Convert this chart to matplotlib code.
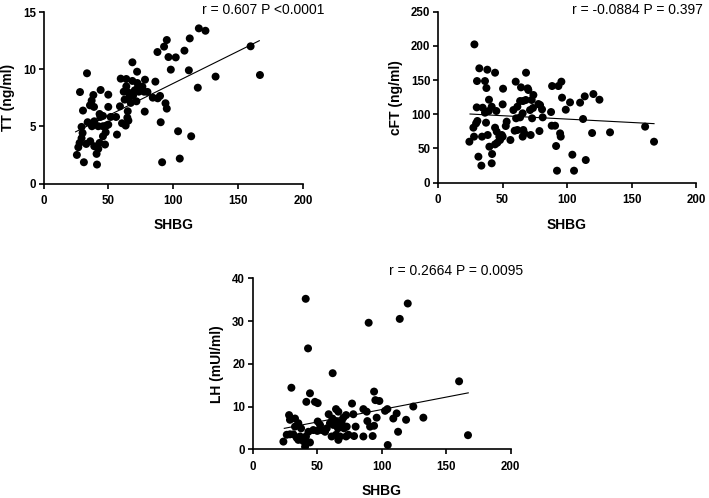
import numpy as np
import matplotlib.pyplot as plt

plt.rcParams['font.family'] = ['Liberation Sans', 'DejaVu Sans']

# TT vs SHBG
shbg_tt = [33.5, 28.1, 37.1, 38.4, 44.0, 49.9, 30.4, 35.8, 38.9, 43.2, 45.8, 49.9,
           29.3, 34.0, 37.3, 39.1, 43.8, 42.2, 45.8, 49.9, 51.7, 25.7, 31.1, 41.2,
           27.8, 29.3, 26.8, 32.9, 36.0, 39.1, 42.2, 40.9, 43.2, 45.8, 47.9, 48.4,
           56.6, 58.9, 59.5, 63.8, 60.5, 63.3, 64.6, 64.9, 65.4, 61.8, 63.8, 66.4,
           67.2, 69.0, 70.3, 68.5, 72.1, 68.5, 72.3, 65.1, 62.5, 72.6, 73.4, 76.2,
           78.2, 77.5, 71.6, 78.0, 80.1, 86.2, 84.2, 88.0, 89.8, 90.3, 91.4, 94.0,
           95.0, 103.7, 105.0, 113.8, 118.9, 132.6, 159.6, 166.8, 119.7, 124.8, 112.7,
           108.6, 101.9, 96.3, 98.1, 112.0, 95.0, 92.9, 87.8, 55.9, 30.1, 47.4]
tt = [9.64, 8.0, 7.25, 7.74, 8.18, 7.77, 6.38, 6.84, 6.70, 6.08, 5.91, 6.70,
      4.95, 5.36, 5.01, 5.44, 5.82, 5.01, 5.01, 5.15, 5.82, 2.50, 1.86, 1.66,
      3.55, 3.96, 3.17, 3.46, 3.70, 3.26, 3.03, 2.59, 3.55, 4.13, 4.48, 5.07,
      4.28, 6.75, 9.17, 9.14, 5.27, 5.07, 5.76, 6.32, 5.50, 8.03, 8.50, 7.57,
      7.05, 7.69, 8.15, 8.97, 9.78, 10.60, 8.79, 7.98, 7.34, 8.36, 8.03, 8.47,
      9.08, 8.03, 7.19, 6.29, 8.01, 8.91, 7.51, 7.45, 7.66, 5.36, 1.86, 7.02,
      6.55, 4.57, 2.18, 4.13, 8.38, 9.35, 12.0, 9.49, 13.57, 13.36, 12.69,
      11.62, 11.03, 11.06, 9.96, 9.90, 12.55, 11.97, 11.50, 5.82, 4.42, 3.41]

# cFT vs SHBG
shbg_cft = [28.2, 32.0, 38.2, 44.2, 30.2, 36.4, 37.5, 39.5, 41.6, 50.4, 50.1, 30.0,
            34.6, 36.4, 39.3, 45.2, 24.3, 27.9, 27.4, 29.5, 30.5, 34.1, 37.2, 38.5,
            44.2, 45.5, 47.5, 49.4, 31.3, 33.6, 41.6, 41.9, 39.8, 44.2, 46.0, 48.1,
            50.1, 52.5, 53.2, 56.1, 60.2, 68.2, 64.3, 69.5, 58.4, 61.5, 63.6, 65.9,
            68.0, 70.0, 60.5, 63.6, 65.6, 66.1, 61.5, 66.9, 65.6, 59.4, 71.3, 73.6,
            72.9, 71.8, 77.8, 79.1, 80.6, 72.6, 73.9, 81.1, 78.6, 87.6, 88.1, 90.7,
            88.4, 93.3, 95.6, 96.1, 99.0, 102.3, 91.5, 94.6, 95.1, 92.2, 105.4, 104.1,
            114.5, 110.1, 113.7, 120.4, 125.1, 112.4, 119.4, 133.3, 160.5, 167.4]
cft = [202.2, 167.2, 165.2, 160.8, 148.6, 148.6, 138.4, 121.3, 111.1, 137.4, 114.5, 110.1,
       109.6, 102.3, 104.8, 104.8, 59.9, 67.3, 80.4, 86.7, 90.2, 67.3, 87.7, 69.7,
       80.4, 74.6, 67.3, 69.7, 38.0, 24.9, 28.3, 41.9, 52.6, 56.0, 58.5, 62.4,
       67.3, 82.8, 89.2, 62.4, 147.7, 160.8, 139.4, 137.9, 106.2, 111.1, 119.4, 119.4,
       120.9, 135.5, 94.1, 95.5, 101.4, 77.0, 77.0, 72.1, 67.3, 76.0, 106.2, 109.2,
       94.1, 69.7, 115.0, 113.5, 107.2, 120.9, 128.2, 95.5, 75.5, 103.3, 83.3, 83.3,
       141.3, 141.3, 147.7, 124.3, 106.7, 117.4, 53.6, 72.1, 67.3, 17.5, 17.5, 40.9,
       33.1, 117.0, 126.2, 129.6, 121.3, 93.1, 72.6, 73.6, 81.9, 59.9]

# LH vs SHBG
shbg_lh = [41.1, 120.2, 114.0, 89.9, 42.9, 62.0, 160.0, 30.0, 44.4, 94.1, 41.6, 48.3,
           50.4, 95.1, 98.2, 77.0, 124.5, 85.8, 88.4, 64.6, 66.4, 102.6, 104.4, 111.6,
           109.0, 28.2, 32.8, 28.9, 50.4, 58.9, 61.8, 70.3, 72.4, 78.0, 96.1, 88.9,
           132.3, 118.9, 112.7, 91.0, 94.1, 79.8, 85.8, 93.0, 78.6, 104.7, 166.9, 23.8,
           26.4, 28.9, 31.5, 32.8, 35.4, 37.5, 34.1, 35.4, 36.7, 39.3, 41.3, 40.6,
           44.4, 43.2, 47.0, 50.1, 53.5, 56.1, 57.4, 59.9, 62.5, 64.6, 61.2, 64.6,
           66.4, 67.7, 66.1, 68.2, 69.0, 70.8, 72.9, 74.2, 72.4, 52.2]
lh = [35.2, 34.1, 30.5, 29.6, 23.6, 17.8, 15.9, 14.4, 13.1, 13.5, 11.1, 11.1,
      10.8, 11.5, 11.3, 10.7, 10.0, 9.4, 8.8, 9.4, 8.8, 9.0, 9.4, 8.4,
      7.2, 8.0, 7.2, 6.9, 6.5, 8.2, 7.2, 7.4, 8.0, 8.2, 7.4, 6.6,
      7.4, 6.9, 4.1, 5.3, 5.5, 5.3, 3.0, 3.1, 3.1, 1.0, 3.3, 1.8,
      3.4, 3.5, 3.5, 5.3, 6.1, 4.9, 2.7, 2.2, 3.0, 1.9, 3.0, 0.6,
      1.6, 4.1, 4.5, 4.3, 4.5, 4.1, 4.9, 6.1, 5.7, 6.6, 3.0, 3.4,
      2.2, 3.0, 4.9, 5.7, 6.5, 4.9, 5.3, 3.4, 3.0, 5.7]

# regression lines: (x start, y start, x end, y end)
fit_tt = [24.7, 4.52, 166.3, 12.49]
fit_cft = [24.8, 100.4, 167.4, 86.3]
fit_lh = [24.5, 4.9, 167.1, 13.2]

stats_tt = 'r = 0.607 P <0.0001'
stats_cft = 'r = -0.0884 P = 0.397'
stats_lh = 'r = 0.2664 P = 0.0095'

fig = plt.figure(figsize=(7.09, 4.98), dpi=100)
ax1 = fig.add_axes([0.0614, 0.6315, 0.366, 0.3444])
ax2 = fig.add_axes([0.6178, 0.6332, 0.364, 0.3433])
ax3 = fig.add_axes([0.3564, 0.0978, 0.3639, 0.3434])


def style(ax, x, y, fit, ylab, ymax, ystep, note, nx, ny):
    ax.scatter(x, y, s=33, color='black', edgecolors='none', zorder=3)
    ax.plot([fit[0], fit[2]], [fit[1], fit[3]], color='black', lw=0.8, zorder=2)
    ax.set_xlim(0, 200)
    ax.set_ylim(0, ymax)
    ax.set_xticks([0, 50, 100, 150, 200])
    ax.set_yticks(np.arange(0, ymax + 1, ystep))
    for s in ['top', 'right']:
        ax.spines[s].set_visible(False)
    for s in ['left', 'bottom']:
        ax.spines[s].set_linewidth(1.2)
    ax.tick_params(width=1.2, length=3.5, labelsize=8.3)
    ax.tick_params(axis='x', pad=5)
    ax.tick_params(axis='y', pad=2)
    for lab in ax.get_xticklabels() + ax.get_yticklabels():
        lab.set_fontweight('bold')
    ax.set_xlabel('SHBG', fontsize=10, fontweight='bold', labelpad=8)
    ax.set_ylabel(ylab, fontsize=10, fontweight='bold', labelpad=6)
    ax.text(nx, ny, note, fontsize=10, ha='left', va='center', clip_on=False)


style(ax1, shbg_tt, tt, fit_tt, 'TT (ng/ml)', 15, 5, stats_tt, 122, 15.2)
style(ax2, shbg_cft, cft, fit_cft, 'cFT (ng/ml)', 250, 50, stats_cft, 104, 252.5)
style(ax3, shbg_lh, lh, fit_lh, 'LH (mUI/ml)', 40, 10, stats_lh, 105.7, 41.8)

fig.savefig('out.png', dpi=100)
